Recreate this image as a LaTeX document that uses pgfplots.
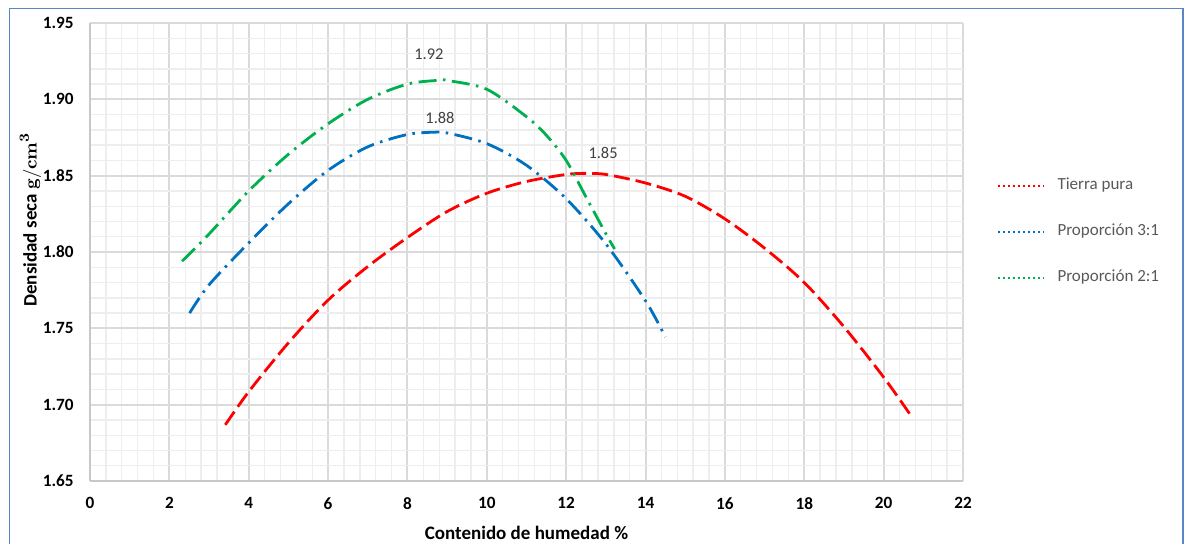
\documentclass[border=0pt]{standalone}
\usepackage[no-math]{fontspec}
\setmainfont{Carlito}
\usepackage{pgfplots}
\pgfplotsset{compat=1.18}
\usepackage{pgfplotstable}

\definecolor{tierra}{RGB}{255,0,0}
\definecolor{tresuno}{RGB}{0,112,192}
\definecolor{dosuno}{RGB}{0,176,80}
\definecolor{majorgrid}{RGB}{218,218,218}
\definecolor{minorgrid}{RGB}{238,238,238}
\definecolor{axisgray}{RGB}{200,200,200}
\definecolor{frameblue}{RGB}{91,134,197}
\definecolor{labelgray}{RGB}{64,64,64}
\definecolor{legendgray}{RGB}{89,89,89}

% Curvas de compactacion: humedad (%) vs densidad seca (g/cm3)
\pgfplotstableread{
x y
3.41 1.6868
4 1.7085
5 1.7405
6 1.7685
7 1.7905
8 1.8095
9 1.8265
10 1.8385
11 1.8462
12 1.8508
12.5 1.8515
13 1.8508
14 1.8452
15 1.8365
16 1.8217
17 1.8025
18 1.7800
19 1.7510
20 1.7180
20.67 1.6935
}\tierrapura

\pgfplotstableread{
x y
2.51 1.7600
3 1.7785
4 1.8060
5 1.8316
6 1.8535
7 1.8689
8 1.8770
8.7 1.8785
9 1.8780
10 1.8710
11 1.8568
12 1.8349
13 1.8053
14 1.7680
14.5 1.7443
}\proptresuno

\pgfplotstableread{
x y
2.32 1.7940
3 1.8118
4 1.8400
5 1.8640
6 1.8840
7 1.9000
8 1.9100
8.8 1.9125
9 1.9124
10 1.9066
11 1.8886
11.5 1.8765
12 1.8600
12.5 1.8360
13 1.8120
13.22 1.8020
}\propdosuno

\begin{document}
\begin{tikzpicture}
\useasboundingbox (0,0) rectangle (595pt,-271.5pt);
\draw[frameblue, line width=0.75pt]
  (4.65pt,-275pt) -- (4.65pt,-4.15pt) -- (591.5pt,-4.15pt) -- (591.5pt,-275pt);
\begin{axis}[
  at={(45pt,-240.5pt)}, anchor=south west,
  scale only axis, width=436.5pt, height=229pt,
  xmin=0, xmax=22, ymin=1.65, ymax=1.95,
  xtick={0,2,4,6,8,10,12,14,16,18,20,22},
  ytick={1.65,1.70,1.75,1.80,1.85,1.90,1.95},
  minor xtick={0.4,0.8,1.2,1.6,2.4,2.8,3.2,3.6,4.4,4.8,5.2,5.6,6.4,6.8,7.2,7.6,
    8.4,8.8,9.2,9.6,10.4,10.8,11.2,11.6,12.4,12.8,13.2,13.6,14.4,14.8,15.2,15.6,
    16.4,16.8,17.2,17.6,18.4,18.8,19.2,19.6,20.4,20.8,21.2,21.6},
  minor ytick={1.66,1.67,1.68,1.69,1.71,1.72,1.73,1.74,1.76,1.77,1.78,1.79,
    1.81,1.82,1.83,1.84,1.86,1.87,1.88,1.89,1.91,1.92,1.93,1.94},
  grid=both,
  major grid style={majorgrid, line width=1pt},
  minor grid style={minorgrid, line width=0.7pt},
  axis lines=left,
  axis line style={-, axisgray, line width=1pt},
  major tick length=0pt, minor tick length=0pt,
  /pgf/number format/assume math mode=true,
  tick label style={font=\bfseries\fontsize{8.6}{10}\selectfont, text=black},
  yticklabel style={/pgf/number format/fixed, /pgf/number format/fixed zerofill,
    /pgf/number format/precision=2, anchor=east, inner sep=0pt, xshift=-8pt},
  xticklabel style={anchor=north, inner sep=0pt, yshift=-8pt},
  xlabel={Contenido de humedad \%},
  xlabel style={at={(axis description cs:0.5,0)}, anchor=base, yshift=-29pt,
    font=\bfseries\fontsize{9.5}{11}\selectfont},
  legend style={draw=none, fill=none, at={(rel axis cs:1.0386,0.5443)}, anchor=west,
    inner sep=0pt, row sep=15pt, font=\fontsize{8.5}{10}\selectfont, text=legendgray,
    nodes={inner sep=0pt, text height=6pt, text depth=2pt}},
  legend cell align=left,
  legend image code/.code={\draw[#1, line width=1pt, dash pattern=on 1pt off 1.5pt]
    (0pt,0pt) -- (23pt,0pt); \path (29.5pt,0pt);},
]
\addplot[tierra, line width=1.4pt, smooth, dash pattern=on 8pt off 3pt, forget plot]
  table[x=x, y=y] {\tierrapura};
\addplot[tresuno, line width=1.4pt, smooth,
  dash pattern=on 9pt off 3.25pt on 1.25pt off 3.25pt, forget plot]
  table[x=x, y=y] {\proptresuno};
\addplot[dosuno, line width=1.4pt, smooth,
  dash pattern=on 9pt off 3.25pt on 1.25pt off 3.25pt, forget plot]
  table[x=x, y=y] {\propdosuno};

\addlegendimage{tierra}
\addlegendentry{Tierra pura}
\addlegendimage{tresuno}
\addlegendentry{Proporción 3:1}
\addlegendimage{dosuno}
\addlegendentry{Proporción 2:1}

\node[font=\fontsize{8.2}{10}\selectfont, text=labelgray] at (axis cs:8.54,1.9297) {1.92};
\node[font=\fontsize{8.2}{10}\selectfont, text=labelgray] at (axis cs:8.82,1.8878) {1.88};
\node[font=\fontsize{8.2}{10}\selectfont, text=labelgray] at (axis cs:12.93,1.8648) {1.85};
\end{axis}
\node[rotate=90, anchor=base west, inner sep=0pt, font=\bfseries\fontsize{9.5}{11}\selectfont]
  at (18.25pt,-153.5pt) {Densidad seca $\mathbf{g/cm^{3}}$};
\end{tikzpicture}
\end{document}
